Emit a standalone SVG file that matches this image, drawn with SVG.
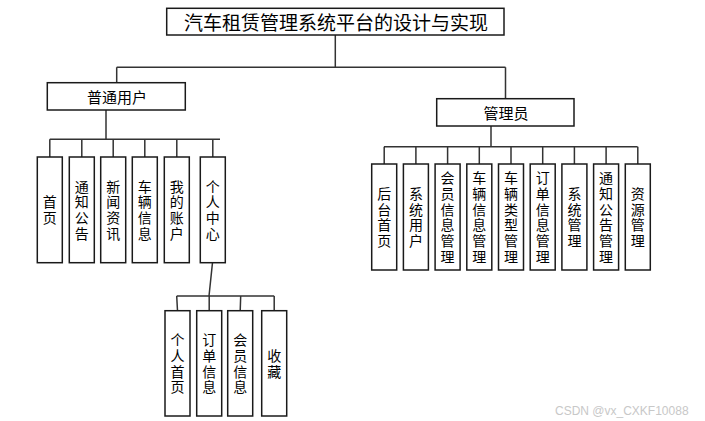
<svg xmlns="http://www.w3.org/2000/svg" width="705" height="421" viewBox="0 0 705 421">
<style>
.box{fill:#fff;stroke:#1a1a1a;stroke-width:1.5}
.ln{fill:none;stroke:#333;stroke-width:1.5}
.t{font-family:"Noto Sans CJK SC","Noto Sans",sans-serif;fill:#000;text-anchor:middle;dominant-baseline:central}
.v{font-family:"Noto Sans CJK SC","Noto Sans",sans-serif;fill:#000;font-size:14px;writing-mode:vertical-rl;text-orientation:upright;text-anchor:middle;letter-spacing:1.7px}
</style>
<rect width="705" height="421" fill="#fff"/>
<g id="connectors">
<path class="ln" d="M335.3 35V67.3M116.7 67.3H505.5M116.7 67.3V82.7M505.5 67.3V98.7"/>
<path class="ln" d="M106 110V139.3M49.8 139.3H220M49.8 139.3V157M81.8 139.3V157M113.2 139.3V157M144.8 139.3V157M176.8 139.3V157M212.8 139.3V157"/>
<path class="ln" d="M212.5 262.7L209 296M176.7 296H274.2M176.7 296L177.5 310.7M209.2 296V310.7M240.7 296L240.2 310.7M274.2 296V310.7"/>
<path class="ln" d="M491 126V146.7M384 146.7H637.6M384.2 146.7V164M415.9 146.7V164M447.6 146.7V164M479.3 146.7V164M511 146.7V164M542.7 146.7V164M574.4 146.7V164M606.1 146.7V164M637.8 146.7V164"/>
</g>
<g id="root"><rect class="box" x="166.7" y="8.3" width="337.3" height="26.7"/><text class="t" x="336" y="21.7" font-size="19">汽车租赁管理系统平台的设计与实现</text></g>
<g id="user"><rect class="box" x="47.3" y="82.7" width="138" height="27.3"/><text class="t" x="117" y="96.5" font-size="15">普通用户</text></g>
<g id="admin"><rect class="box" x="436.7" y="98.7" width="137.3" height="27.3"/><text class="t" x="506" y="112.5" font-size="15">管理员</text></g>

<g id="u1"><rect class="box" x="37.3" y="157" width="25" height="105.7"/><text class="v" x="49.8" y="210.7">首页</text></g>
<g id="u2"><rect class="box" x="69.3" y="157" width="25" height="105.7"/><text class="v" x="81.8" y="210.7">通知公告</text></g>
<g id="u3"><rect class="box" x="100.7" y="157" width="25" height="105.7"/><text class="v" x="113.2" y="210.7">新闻资讯</text></g>
<g id="u4"><rect class="box" x="132.3" y="157" width="25" height="105.7"/><text class="v" x="144.8" y="210.7">车辆信息</text></g>
<g id="u5"><rect class="box" x="164.3" y="157" width="25" height="105.7"/><text class="v" x="176.8" y="210.7">我的账户</text></g>
<g id="u6"><rect class="box" x="200.3" y="157" width="25" height="105.7"/><text class="v" x="212.8" y="210.7">个人中心</text></g>

<g id="p1"><rect class="box" x="165" y="310.7" width="25" height="105.3"/><text class="v" x="177.5" y="364.2">个人首页</text></g>
<g id="p2"><rect class="box" x="196.7" y="310.7" width="25" height="105.3"/><text class="v" x="209.2" y="364.2">订单信息</text></g>
<g id="p3"><rect class="box" x="227.7" y="310.7" width="25" height="105.3"/><text class="v" x="240.2" y="364.2">会员信息</text></g>
<g id="p4"><rect class="box" x="261.7" y="310.7" width="25" height="105.3"/><text class="v" x="274.2" y="364.2">收藏</text></g>

<g id="a1"><rect class="box" x="371.7" y="164" width="25" height="106"/><text class="v" x="384.2" y="217.9">后台首页</text></g>
<g id="a2"><rect class="box" x="403.4" y="164" width="25" height="106"/><text class="v" x="415.9" y="217.9">系统用户</text></g>
<g id="a3"><rect class="box" x="435.1" y="164" width="25" height="106"/><text class="v" x="447.6" y="217.9">会员信息管理</text></g>
<g id="a4"><rect class="box" x="466.8" y="164" width="25" height="106"/><text class="v" x="479.3" y="217.9">车辆信息管理</text></g>
<g id="a5"><rect class="box" x="498.5" y="164" width="25" height="106"/><text class="v" x="511" y="217.9">车辆类型管理</text></g>
<g id="a6"><rect class="box" x="530.2" y="164" width="25" height="106"/><text class="v" x="542.7" y="217.9">订单信息管理</text></g>
<g id="a7"><rect class="box" x="561.9" y="164" width="25" height="106"/><text class="v" x="574.4" y="217.9">系统管理</text></g>
<g id="a8"><rect class="box" x="593.6" y="164" width="25" height="106"/><text class="v" x="606.1" y="217.9">通知公告管理</text></g>
<g id="a9"><rect class="box" x="625.3" y="164" width="25" height="106"/><text class="v" x="637.8" y="217.9">资源管理</text></g>

<text x="555" y="415" font-family="'Liberation Sans',Arial,sans-serif" font-size="12" fill="#c8c8c8">CSDN @vx_CXKF10088</text>
</svg>
